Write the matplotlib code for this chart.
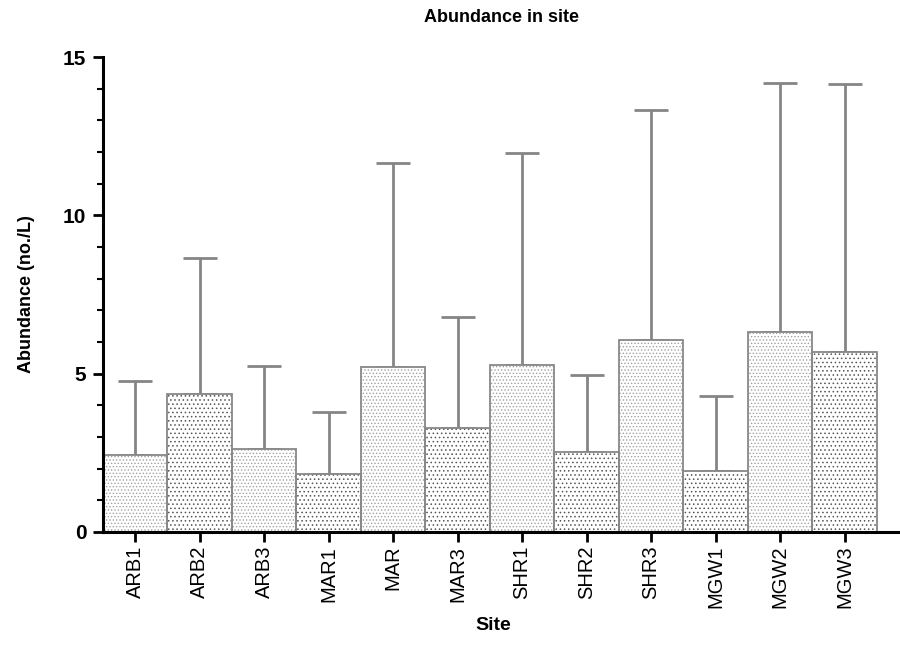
import matplotlib
matplotlib.use("Agg")
import matplotlib.pyplot as plt
import numpy as np
from matplotlib.ticker import MultipleLocator

sites = ["ARB1", "ARB2", "ARB3", "MAR1", "MAR", "MAR3",
         "SHR1", "SHR2", "SHR3", "MGW1", "MGW2", "MGW3"]
means = [2.43, 4.36, 2.61, 1.82, 5.20, 3.28, 5.26, 2.54, 6.05, 1.92, 6.33, 5.68]
upper = [4.78, 8.65, 5.24, 3.78, 11.64, 6.79, 11.97, 4.95, 13.32, 4.29, 14.17, 14.14]

plt.rcParams["font.family"] = ["Liberation Sans", "DejaVu Sans"]
plt.rcParams["hatch.linewidth"] = 0.6

fig = plt.figure(figsize=(9, 6.57), dpi=100)
ax = fig.add_axes([0.1144, 0.1903, 0.8856, 0.7229])

x = np.arange(len(sites))
means = np.array(means)
err = np.array(upper) - means

# hatch fill first, then the grey outline on top
for i in range(len(sites)):
    if i % 2 == 0:
        ax.bar(x[i], means[i], width=1.0, color="white", edgecolor="#a0a0a0",
               hatch=".....", linewidth=0, zorder=2)
    else:
        ax.bar(x[i], means[i], width=1.0, color="white", edgecolor="#555555",
               hatch="....", linewidth=0, zorder=2)
ax.bar(x, means, width=1.0, fill=False, edgecolor="#888888", linewidth=1.3, zorder=3)

ax.errorbar(x, means, yerr=[np.zeros_like(err), err], fmt="none",
            ecolor="#858585", elinewidth=2, capsize=12, capthick=2, zorder=1)

ax.set_xlim(-0.5, 11.86)
ax.set_ylim(0, 15)
ax.set_xticks(x)
ax.set_xticklabels(sites, rotation=90, fontsize=14.5)
ax.yaxis.set_major_locator(MultipleLocator(5))
ax.yaxis.set_minor_locator(MultipleLocator(1))
for lab in ax.get_yticklabels():
    lab.set_fontweight("bold")
    lab.set_fontsize(15)

for side in ["top", "right"]:
    ax.spines[side].set_visible(False)
for side in ["left", "bottom"]:
    ax.spines[side].set_linewidth(2.2)
    ax.spines[side].set_color("black")
    ax.spines[side].set_zorder(5)

ax.tick_params(axis="y", which="major", length=7, width=2, pad=5)
ax.tick_params(axis="y", which="minor", length=4, width=1.5)
ax.tick_params(axis="x", which="major", length=7, width=2, pad=3)

ax.set_ylabel("Abundance (no./L)", fontsize=13, fontweight="bold", labelpad=20)
ax.set_xlabel("Site", fontsize=14, fontweight="bold")
ax.xaxis.set_label_coords(0.49, -0.178)
ax.set_title("Abundance in site", fontsize=13, fontweight="bold", pad=25)

fig.savefig("out.png", dpi=100)
